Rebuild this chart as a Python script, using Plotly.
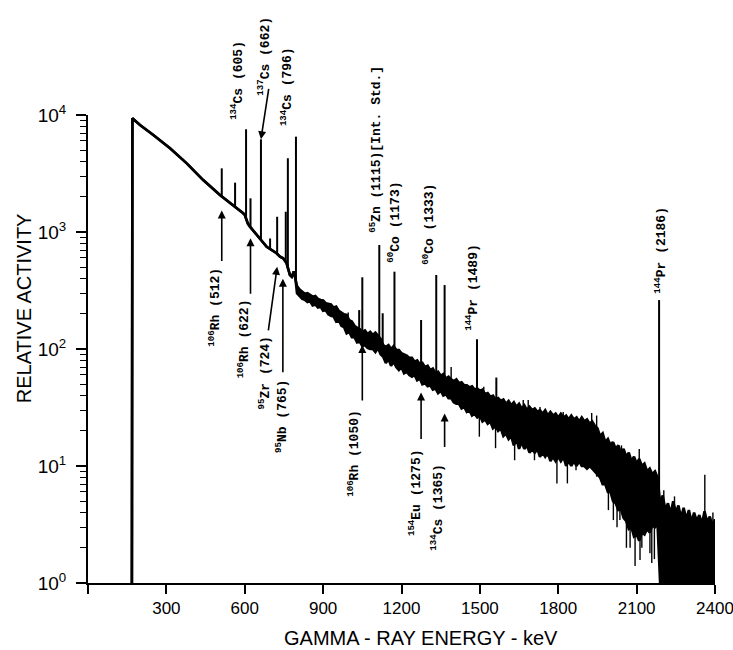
import numpy as np
import plotly.graph_objects as go

# ---------------------------------------------------------------------------
# Gamma-ray spectrum (relative activity vs energy)
# ---------------------------------------------------------------------------

# Smooth low-energy part of the spectrum: energy (keV) and counts
continuum_kev = [168, 168, 170, 185, 199, 250, 314, 378, 441, 505, 556, 594,
                 600, 612, 620, 646, 684, 722, 735, 747, 760, 773, 780, 788, 794]
continuum_counts = [1, 9000, 9380, 8770, 8220, 6745, 5190, 3860, 2780, 2070,
                    1700, 1445, 1400, 1180, 1110, 942, 748, 658, 615, 596,
                    543, 429, 415, 460, 400]

# Noisy part above 800 keV: 10 keV channels, upper and lower edge of the band
band_kev = list(range(800, 2410, 10))
band_upper = [
    345, 322, 306, 296, 300, 288, 280, 284, 268, 262,
    260, 246, 244, 240, 226, 230, 212, 204, 198, 196,
    176, 172, 158, 152, 148, 140, 144, 134, 140, 132,
    138, 130, 122, 108, 104, 108, 100, 106, 98, 98,
    92, 90, 88, 84, 84, 78, 80, 74, 76, 70,
    72, 66, 68, 62, 64, 59, 61, 56, 58, 55,
    53, 55, 51, 52, 49, 49, 47, 48, 45, 46,
    44, 45, 41, 42, 39, 40, 37, 38, 36, 37,
    34, 36, 33, 35, 32, 34, 31, 33, 30, 32,
    30, 31, 29, 30, 28, 30, 27, 29, 27, 28,
    26, 28, 26, 27, 25, 27, 25, 26, 24, 26,
    24, 25, 23, 24, 22, 21, 18, 19, 16, 17,
    15, 16, 14, 15, 13, 14, 12, 13, 11, 12,
    10.5, 11.5, 10, 10.5, 9, 9.5, 8.5, 9, 8, 4.8,
    5.6, 4.2, 4.8, 3.9, 5.0, 4.0, 4.6, 3.6, 4.4, 3.5,
    4.2, 3.3, 4.0, 3.4, 3.8, 3.2, 4.1, 3.3, 3.7, 3.1,
    3.5,
]
band_lower = [
    300, 285, 268, 264, 252, 256, 236, 240, 226, 230,
    212, 214, 198, 192, 190, 172, 176, 158, 154, 136,
    140, 126, 126, 114, 116, 106, 108, 102, 100, 100,
    94, 102, 90, 86, 76, 82, 72, 78, 70, 66,
    70, 62, 64, 60, 58, 60, 54, 56, 50, 51,
    48, 49, 45, 46, 42, 44, 40, 41, 38, 38,
    35, 34, 34, 31, 32, 29, 30, 27, 28, 26,
    27, 24, 25, 23, 24, 21, 22, 20, 21, 18,
    19, 17, 18, 15, 17, 14, 16, 14, 15, 13,
    14, 13, 14, 12, 13, 12, 13, 11, 12, 11,
    12, 11, 12, 10, 11, 10, 11, 10, 11, 10,
    10, 9.5, 10, 9.5, 9, 8.5, 8, 7, 7, 6,
    6, 5, 4.8, 4.2, 4.3, 3.6, 3.4, 2.9, 3.0, 2.5,
    2.6, 2.3, 2.7, 2.6, 2.9, 2.7, 3.1, 3.0, 3.2, 1,
    1, 1, 1, 1, 1, 1, 1, 1, 1, 1,
    1, 1, 1, 1, 1, 1, 1, 1, 1, 1,
    1,
]

# Photopeaks: energy (keV) and peak counts
peak_kev = [512, 563, 605, 622, 662, 697, 724, 757, 765, 796,
            1038, 1050, 1115, 1128, 1173, 1275, 1333, 1365, 1489, 1563, 2186]
peak_counts = [3500, 2640, 7550, 1940, 6200, 880, 1350, 1490, 4270, 6530,
               215, 410, 774, 202, 458, 177, 429, 352, 121, 57, 262]

# Single-channel excursions of the noisy band
dip_kev = [1498, 1560, 1633, 1709, 1760, 1795, 1835, 1868, 1947, 1992, 2011,
           2025, 2036, 2061, 2075, 2094, 2113, 2120, 2151, 2158, 2168]
dip_counts = [17.8, 14.2, 11.2, 11.2, 12, 7.1, 7.1, 9.2, 8.1, 4.2, 3.45,
              3.0, 3.45, 2.0, 2.0, 1.4, 1.57, 2.0, 1.8, 1.48, 1.6]
spike_kev = [996, 1390, 1515, 1545, 1593, 1666, 1685, 1730, 1787, 1819, 1928,
             1947, 2003, 2042, 2068, 2110, 2172, 2204, 2245, 2361, 2392]
spike_counts = [205, 70, 47.6, 40, 36.6, 36.6, 36.6, 32, 28.4, 29, 28.4,
                27, 16.1, 15, 12, 14, 9.2, 6.2, 5.5, 8.4, 4.0]

# Axis ticks
x_ticks = [0, 300, 600, 900, 1200, 1500, 1800, 2100, 2400]
x_tick_text = ["", "300", "600", "900", "1200", "1500", "1800", "2100", "2400"]
y_ticks = [1, 10, 100, 1000, 10000]
y_tick_text = ["10<sup>0</sup>", "10<sup>1</sup>", "10<sup>2</sup>",
               "10<sup>3</sup>", "10<sup>4</sup>"]

# ---------------------------------------------------------------------------
spec_kev = continuum_kev + band_kev
spec_upper = continuum_counts + band_upper
spec_lower = continuum_counts + band_lower

# centre of the spectrum band in log space, used as the foot of stems
ref_kev = np.array(spec_kev[1:], dtype=float)
ref_log = (np.log10(np.array(spec_upper[1:], dtype=float)) +
           np.log10(np.array(spec_lower[1:], dtype=float))) / 2


def base(e):
    return float(10 ** np.interp(e, ref_kev, ref_log))


def stems(energies, ends):
    xs, ys = [], []
    for e, v in zip(energies, ends):
        xs += [e, e, None]
        ys += [base(e), v, None]
    return xs, ys


fig = go.Figure()
fig.add_trace(go.Scatter(x=spec_kev, y=spec_lower, mode="lines",
                         line=dict(color="black", width=2.6),
                         hoverinfo="skip", showlegend=False))
fig.add_trace(go.Scatter(x=spec_kev, y=spec_upper, mode="lines",
                         fill="tonexty", fillcolor="black",
                         line=dict(color="black", width=2.6),
                         hoverinfo="skip", showlegend=False))

for energies, ends, w in ((dip_kev, dip_counts, 1.4),
                          (spike_kev, spike_counts, 1.4),
                          (peak_kev, peak_counts, 2.0)):
    sx, sy = stems(energies, ends)
    fig.add_trace(go.Scatter(x=sx, y=sy, mode="lines",
                             line=dict(color="black", width=w),
                             hoverinfo="skip", showlegend=False))

# ---------------------------------------------------------------------------
# Isotope labels
LABEL_FONT = dict(family="Liberation Mono, Courier New, monospace",
                  size=13, color="black")
annotations = []


def iso(mass, sym, kev, extra=""):
    return f"<b><sup>{mass}</sup>{sym} ({kev}){extra}</b>"


# labels standing on top of a peak: (mass, symbol, peak keV, dx, dy)
top_labels = [
    (134, "Cs", 605, -9, 7),
    (137, "Cs", 662, 3, 42),
    (134, "Cs", 796, -10, 9),
    (65, "Zn", 1115, -4, 10),
    (60, "Co", 1173, -1, 7),
    (60, "Co", 1333, -8, 8),
    (144, "Pr", 1489, -5, 6),
    (144, "Pr", 2186, 1, 4),
]
for mass, sym, kev, dx, dy in top_labels:
    top = peak_counts[peak_kev.index(kev)]
    extra = "[Int. Std.]" if kev == 1115 else ""
    annotations.append(dict(
        x=kev, y=np.log10(top), xref="x", yref="y",
        text=iso(mass, sym, kev, extra), textangle=-90, showarrow=False,
        xanchor="center", yanchor="bottom", xshift=dx, yshift=dy,
        font=LABEL_FONT))

# arrow pointing down onto the 662 keV peak
annotations.append(dict(
    x=662, y=np.log10(peak_counts[peak_kev.index(662)]), xref="x", yref="y",
    text="", showarrow=True, ax=8, ay=-52, arrowhead=2, arrowsize=1,
    arrowwidth=1.6, arrowcolor="black", standoff=0))

# labels with an arrow pointing up at the spectrum:
# (mass, symbol, keV, gap below spectrum, arrow length, arrow tilt,
#  shift of whole arrow, text dx, gap between arrow tail and text)
arrow_labels = [
    (106, "Rh", 512, 14, 52, 0, 0, -7, 3),
    (106, "Rh", 622, 11, 57, 0, 0, -7, 2),
    (95, "Zr", 724, 13, 65, -9, 0, -13, 3),
    (95, "Nb", 765, 11, 95, 0, -5, -7, 4),
    (106, "Rh", 1050, 6, 57, 0, 0, -9, 6),
    (154, "Eu", 1275, 20, 48, 0, 0, -6, 7),
    (134, "Cs", 1365, 28, 35, 0, 0, -8, 13),
]
for mass, sym, kev, gap, length, tilt, shift, tdx, tgap in arrow_labels:
    yb = np.log10(base(kev))
    annotations.append(dict(
        x=kev, y=yb, xref="x", yref="y", text="", showarrow=True,
        ax=tilt, ay=length, xshift=shift, yshift=-gap,
        arrowhead=2, arrowsize=1, arrowwidth=1.6, arrowcolor="black",
        standoff=0))
    annotations.append(dict(
        x=kev, y=yb, xref="x", yref="y", text=iso(mass, sym, kev),
        textangle=-90, showarrow=False, xanchor="center", yanchor="top",
        xshift=tdx, yshift=-(gap + length + tgap), font=LABEL_FONT))

# axis titles
TITLE_FONT = dict(family="Liberation Sans, Arial, sans-serif", size=20,
                  color="black")
annotations.append(dict(
    x=-0.103, y=0.588, xref="paper", yref="paper", text="RELATIVE ACTIVITY",
    textangle=-90, showarrow=False, xanchor="center", yanchor="middle",
    font=TITLE_FONT))
annotations.append(dict(
    x=0.531, y=-0.1175, xref="paper", yref="paper",
    text="GAMMA - RAY ENERGY - keV", showarrow=False,
    xanchor="center", yanchor="middle", font=TITLE_FONT))

TICK_FONT = dict(family="Liberation Sans, Arial, sans-serif", size=17,
                 color="black")

fig.update_layout(
    width=733, height=650,
    margin=dict(l=88, r=18, t=115, b=67, autoexpand=False),
    paper_bgcolor="white", plot_bgcolor="white",
    showlegend=False,
    annotations=annotations,
    xaxis=dict(
        range=[0, 2400], tickvals=x_ticks, ticktext=x_tick_text,
        showline=True, linecolor="black", linewidth=2, mirror=False,
        ticks="outside", ticklen=9, tickwidth=1.6, tickcolor="black",
        showgrid=False, zeroline=False, tickfont=TICK_FONT,
        ticklabeloverflow="allow", automargin=False,
    ),
    yaxis=dict(
        type="log", range=[0, 4], tickvals=y_ticks, ticktext=y_tick_text,
        showline=True, linecolor="black", linewidth=2, mirror=False,
        ticks="outside", ticklen=10, tickwidth=1.6, tickcolor="black",
        minor=dict(ticks="outside", ticklen=6, tickwidth=1.3, dtick="D1",
                   tickcolor="black", showgrid=False),
        showgrid=False, zeroline=False, automargin=False,
        tickfont=dict(family="Liberation Sans, Arial, sans-serif", size=19,
                      color="black"),
        ticklabelstandoff=6,
    ),
)

fig.write_html("out.html")
